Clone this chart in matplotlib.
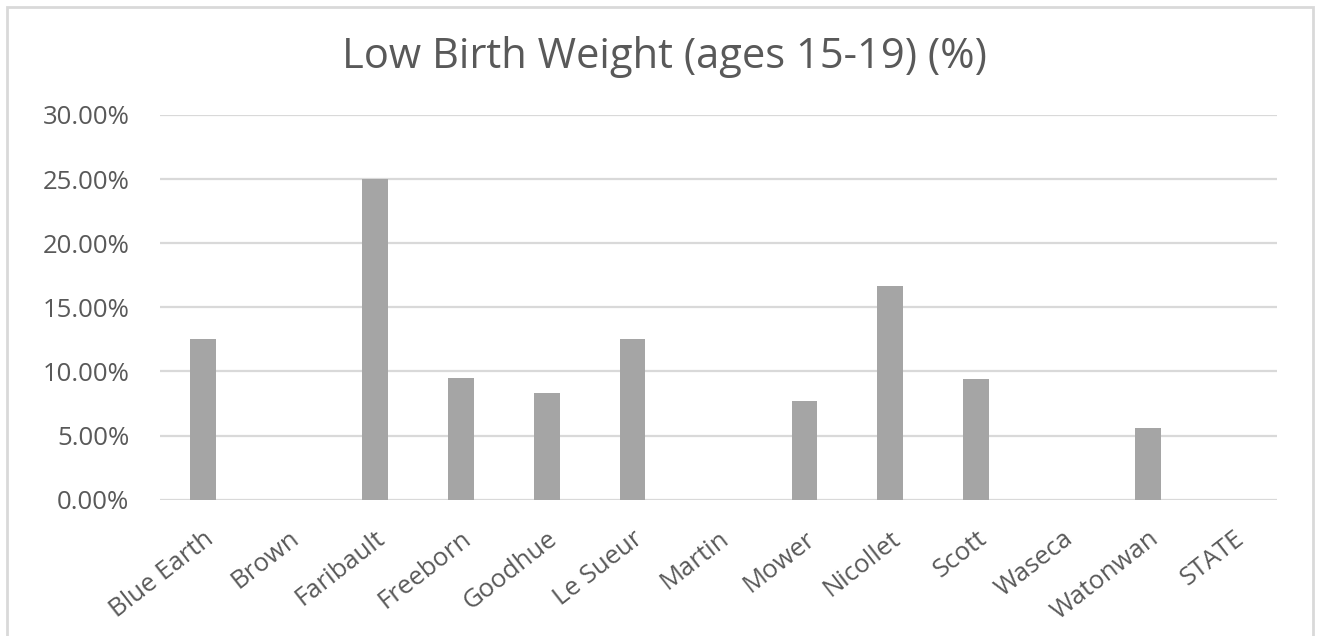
import matplotlib
matplotlib.use("Agg")
import matplotlib.pyplot as plt
from matplotlib.patches import Rectangle
from matplotlib.ticker import FuncFormatter, MultipleLocator

# low birth weight share by county, ages 15-19
counties = ['Blue Earth', 'Brown', 'Faribault', 'Freeborn', 'Goodhue', 'Le Sueur',
            'Martin', 'Mower', 'Nicollet', 'Scott', 'Waseca', 'Watonwan', 'STATE']
low_bw = [0.125, 0.0, 0.25, 0.0952, 0.0833, 0.125,
          0.0, 0.0769, 0.1667, 0.0938, 0.0, 0.0556, 0.0]

txt = '#595959'
grid = '#D9D9D9'
bar_col = '#A5A5A5'
plt.rcParams['font.family'] = ['Open Sans', 'DejaVu Sans']

fig = plt.figure(figsize=(13.2, 6.36), dpi=100)
ax = fig.add_axes([160/1320, 1-499.7/636, 1117/1320, (499.7-115)/636])

x = range(len(counties))
ax.bar(x, low_bw, width=0.3, color=bar_col, zorder=3)

ax.set_xlim(-0.5, len(counties)-0.5)
ax.set_ylim(0, 0.30)
ax.yaxis.set_major_locator(MultipleLocator(0.05))
ax.yaxis.set_major_formatter(FuncFormatter(lambda v, p: f'{v*100:.2f}%'))
ax.grid(axis='y', color=grid, linewidth=1.6, zorder=0)
ax.set_axisbelow(True)
for s in ax.spines.values():
    s.set_visible(False)
ax.tick_params(axis='both', length=0, colors=txt, labelsize=18.5)
ax.tick_params(axis='y', pad=22)

ax.set_xticks(list(x))
ax.set_xticklabels(counties, rotation=38, ha='right', va='top', rotation_mode='anchor')
ax.tick_params(axis='x', pad=19)

fig.text(0.503, 1-67.7/636, 'Low Birth Weight (ages 15-19) (%)', ha='center', va='baseline',
         fontsize=30, color=txt)

# chart frame
fig.patches.append(Rectangle((7/1320, -0.05), 1306/1320, 1.05 - 7/636, transform=fig.transFigure,
                             fill=False, edgecolor=grid, linewidth=2))

fig.savefig('out.png', dpi=100)
